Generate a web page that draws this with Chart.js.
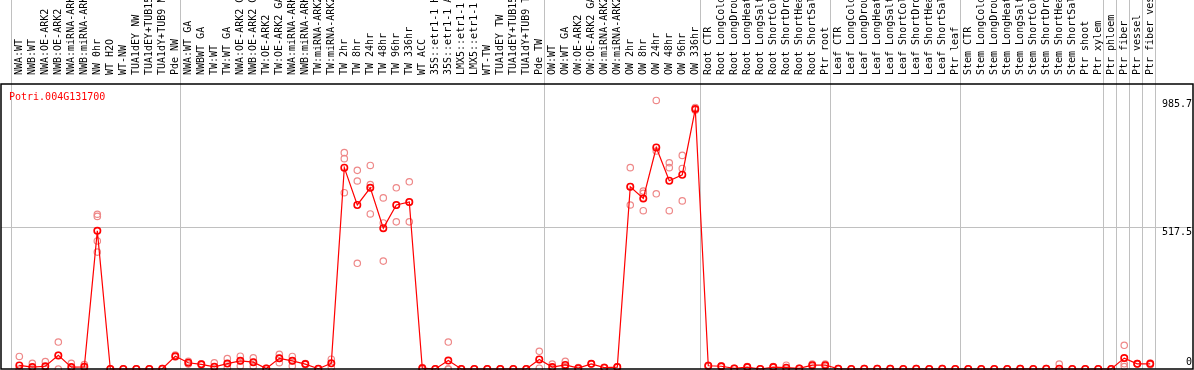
<!DOCTYPE html>
<html>
<head>
<meta charset="utf-8">
<script src="https://cdn.jsdelivr.net/npm/chart.js@4"></script>
<style>
  html, body { margin: 0; padding: 0; background: #fff; }
  #wrap { width: 1194px; height: 370px; }
</style>
</head>
<body>
<div id="wrap"><canvas id="exprChart"></canvas></div>
<script>
// Expression profile for one gene across poplar samples
const geneName = 'Potri.004G131700';

const sampleLabels = [
    'NWA:WT', 'NWB:WT', 'NWA:OE-ARK2', 'NWB:OE-ARK2', 'NWA:miRNA-ARK2', 'NWB:miRNA-ARK2',
    'NW 0hr', 'WT H2O', 'WT-NW', 'TUA1dEY NW', 'TUA1dEY+TUB15 NW', 'TUA1dY+TUB9 NW', 'Pde NW',
    'NWA:WT GA', 'NWBWT GA', 'TW:WT', 'TW:WT GA', 'NWA:OE-ARK2 GA', 'NWB:OE-ARK2 GA',
    'TW:OE-ARK2', 'TW:OE-ARK2 GA', 'NWA:miRNA-ARK2 GA', 'NWB:miRNA-ARK2 GA', 'TW:miRNA-ARK2',
    'TW:miRNA-ARK2 GA', 'TW 2hr', 'TW 8hr', 'TW 24hr', 'TW 48hr', 'TW 96hr', 'TW 336hr',
    'WT ACC', '35S::etr1-1 H2O', '35S::etr1-1 ACC', 'LMX5::etr1-1 H2O', 'LMX5::etr1-1 ACC',
    'WT-TW', 'TUA1dEY TW', 'TUA1dEY+TUB15 TW', 'TUA1dY+TUB9 TW', 'Pde TW',
    'OW:WT', 'OW:WT GA', 'OW:OE-ARK2', 'OW:OE-ARK2 GA', 'OW:miRNA-ARK2', 'OW:miRNA-ARK2 GA',
    'OW 2hr', 'OW 8hr', 'OW 24hr', 'OW 48hr', 'OW 96hr', 'OW 336hr',
    'Root CTR', 'Root LongCold', 'Root LongDrought', 'Root LongHeat', 'Root LongSalt',
    'Root ShortCold', 'Root ShortDrought', 'Root ShortHeat', 'Root ShortSalt', 'Ptr root',
    'Leaf CTR', 'Leaf LongCold', 'Leaf LongDrought', 'Leaf LongHeat', 'Leaf LongSalt',
    'Leaf ShortCold', 'Leaf ShortDrought', 'Leaf ShortHeat', 'Leaf ShortSalt', 'Ptr leaf',
    'Stem CTR', 'Stem LongCold', 'Stem LongDrought', 'Stem LongHeat', 'Stem LongSalt',
    'Stem ShortCold', 'Stem ShortDrought', 'Stem ShortHeat', 'Stem ShortSalt',
    'Ptr shoot', 'Ptr xylem', 'Ptr phloem', 'Ptr fiber', 'Ptr vessel', 'Ptr fiber vessel'
];

// index of the first sample of each block (gray separators)
const groupStarts = [0, 13, 41, 53, 63, 73, 84, 85, 86, 87, 88];

const meanValues = [
    13, 7, 10, 50, 7, 8, 507, 0, 0, 0, 0, 1, 47,
    23, 17, 8, 20, 30, 25, 2, 39, 30, 18, 1, 21,
    739, 602, 665, 517, 602, 613, 3, 0, 31, 0, 0, 0, 0, 0, 0, 35,
    7, 15, 3, 19, 5, 7, 669, 626, 813, 691, 713, 954,
    12, 10, 2, 7, 0, 7, 5, 2, 14, 14,
    1, 0, 1, 1, 1, 0, 1, 0, 1, 0,
    0, 0, 0, 0, 1, 0, 1, 1, 0,
    0, 0, 0, 40, 19, 19
];

const replicateValues = [
    [46, 0, 0], [21, 0], [27, 0], [99, 50, 0], [21, 0], [16, 0],
    [568, 560, 470, 429], [0, 0], [0, 0], [0, 0], [0, 0], [2, 0], [51, 44],
    [28, 18], [19, 15], [23, 0], [38, 5], [47, 30, 11], [41, 25, 10], [3, 0],
    [54, 39, 23], [46, 30, 11], [20, 16], [1, 0], [36, 6],
    [794, 772, 647], [729, 690, 388], [747, 677, 569], [628, 536, 396],
    [665, 601, 540], [687, 612, 540], [5, 0], [0, 0], [99, 0, 0], [0, 0], [0, 0],
    [0, 0], [0, 0], [0, 0], [0, 0], [65, 35, 3],
    [18, 3, 0], [28, 10, 7], [5, 0], [19, 18], [6, 4], [8, 6],
    [739, 669, 602], [653, 645, 581], [985.7, 800, 643], [757, 739, 581],
    [784, 736, 617], [960, 950],
    [14, 10], [12, 8], [3, 1], [9, 5], [0, 0], [9, 5], [14, 0], [3, 1], [18, 10], [18, 10],
    [2, 0], [0, 0], [2, 0], [2, 0], [2, 0], [0, 0], [2, 0], [0, 0], [2, 0], [0, 0],
    [0, 0], [0, 0], [0, 0], [0, 0], [2, 0], [0, 0], [2, 0], [18, 0], [0, 0],
    [0, 0], [0, 0], [0, 0], [87, 19, 9], [20, 18], [22, 16]
];

const yTickValues = [0, 517.5, 985.7];

const monoFont = { family: '"DejaVu Sans Mono", monospace', size: 10 };

// separators, frame, value labels and gene name
const profileDecor = {
    id: 'profileDecor',
    beforeDraw(chart) {
        const { ctx, chartArea, scales } = chart;
        ctx.save();
        ctx.strokeStyle = '#c0c0c0';
        ctx.lineWidth = 1;
        groupStarts.forEach(i => {
            const px = Math.round(scales.x.getPixelForValue(i - 0.63)) + 0.5;
            ctx.beginPath();
            ctx.moveTo(px, 0);
            ctx.lineTo(px, chartArea.bottom);
            ctx.stroke();
        });
        ctx.restore();
    },
    afterDraw(chart) {
        const { ctx, chartArea, scales } = chart;
        ctx.save();
        ctx.strokeStyle = '#000';
        ctx.lineWidth = 1.5;
        ctx.strokeRect(chartArea.left, chartArea.top,
            chartArea.right - chartArea.left, chartArea.bottom - chartArea.top);

        ctx.font = '10px "DejaVu Sans Mono", monospace';
        ctx.textBaseline = 'middle';
        ctx.fillStyle = '#000';
        ctx.textAlign = 'right';
        scales.y.ticks.forEach(t => {
            let py = scales.y.getPixelForValue(t.value) + 4;
            py = Math.min(py, chartArea.bottom - 7);
            ctx.fillText(String(t.value), chartArea.right - 1, py);
        });

        ctx.fillStyle = '#ff0000';
        ctx.textAlign = 'left';
        ctx.fillText(geneName, chartArea.left + 8, chartArea.top + 13);
        ctx.restore();
    }
};

const ctx = document.getElementById('exprChart');

new Chart(ctx, {
    type: 'scatter',
    data: {
        datasets: [
            {
                label: 'mean',
                data: meanValues.map((v, i) => ({ x: i, y: v })),
                showLine: true,
                borderColor: '#ff0000',
                borderWidth: 1.2,
                tension: 0,
                pointRadius: 3.2,
                pointBorderWidth: 1.6,
                pointBorderColor: '#ff0000',
                pointBackgroundColor: 'rgba(0,0,0,0)',
                clip: false,
                order: 1
            },
            {
                label: 'replicates',
                data: replicateValues.flatMap((reps, i) => reps.map(v => ({ x: i, y: v }))),
                showLine: false,
                pointRadius: 3.2,
                pointBorderWidth: 1.2,
                pointBorderColor: '#ee8888',
                pointBackgroundColor: 'rgba(0,0,0,0)',
                clip: false,
                order: 2
            }
        ]
    },
    options: {
        responsive: true,
        maintainAspectRatio: false,
        animation: false,
        devicePixelRatio: 1,
        layout: {
            autoPadding: false,
            padding: { left: 1, right: 1, top: 0, bottom: 1 }
        },
        plugins: {
            legend: { display: false },
            tooltip: { enabled: false }
        },
        scales: {
            x: {
                type: 'linear',
                position: 'top',
                min: -1.41,
                max: 90.29,
                afterBuildTicks: scale => {
                    scale.ticks = sampleLabels.map((_, i) => ({ value: i }));
                },
                afterFit: scale => {
                    scale.height = 84;
                    scale.paddingLeft = 0;
                    scale.paddingRight = 0;
                },
                grid: { display: false },
                border: { display: false },
                ticks: {
                    autoSkip: false,
                    minRotation: 90,
                    maxRotation: 90,
                    padding: 1,
                    labelOffset: 12,
                    color: '#000',
                    font: monoFont,
                    callback: value => sampleLabels[value]
                }
            },
            y: {
                position: 'right',
                min: 0,
                max: 1046,
                afterBuildTicks: scale => {
                    scale.ticks = yTickValues.map(v => ({ value: v }));
                },
                afterFit: scale => {
                    scale.width = 0;
                    scale.paddingTop = 0;
                    scale.paddingBottom = 0;
                },
                border: { display: false },
                grid: {
                    drawTicks: false,
                    color: c => (c.tick && c.tick.value === 517.5) ? '#c0c0c0' : 'rgba(0,0,0,0)'
                },
                ticks: { display: false }
            }
        }
    },
    plugins: [profileDecor]
});
</script>
</body>
</html>
